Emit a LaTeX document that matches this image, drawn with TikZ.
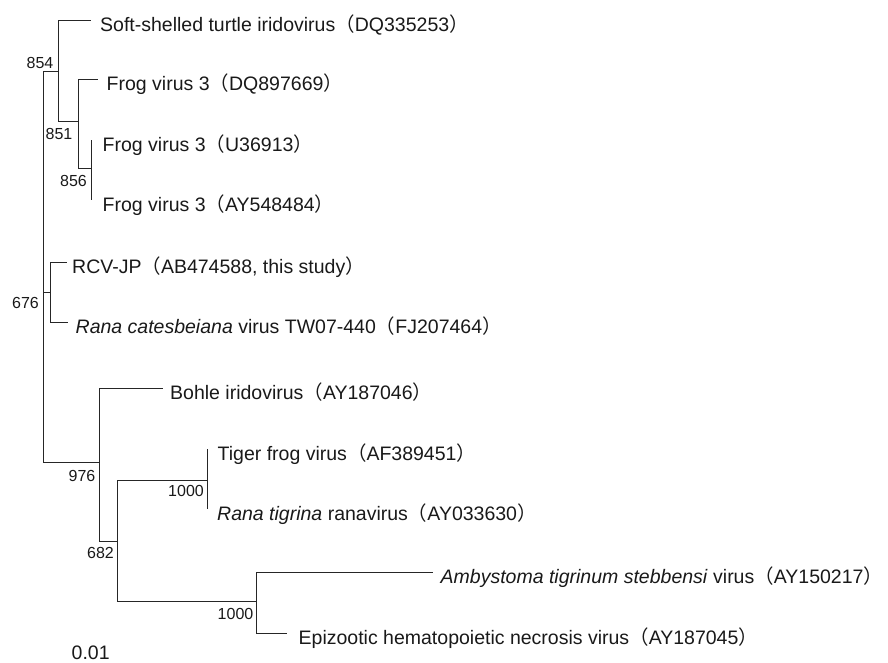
\documentclass[tikz,border=0pt]{standalone}
\usepackage{fontspec}
\setmainfont{Liberation Sans}
\newfontfamily\cjk{Noto Sans CJK JP}
\newcommand\lpar{{\cjk （}}
\newcommand\rpar{{\cjk ）}}
\begin{document}
\begin{tikzpicture}[x=1pt,y=-1pt,
  branch/.style={draw=black!85,line width=1pt},
  leaf/.style={inner sep=0pt,anchor=base west,font=\fontsize{19.5}{22}\selectfont,text=black!90},
  boot/.style={inner sep=0pt,anchor=base east,font=\fontsize{16}{18}\selectfont,text=black!90}]
\useasboundingbox (0,0) rectangle (888,662);
% internal nodes
\coordinate (root) at (43,292);
\coordinate (n854) at (58,71);
\coordinate (n851) at (78,121);
\coordinate (n856) at (91,168);
\coordinate (n676) at (50,292);
\coordinate (n976) at (99,462);
\coordinate (n682) at (117,541);
\coordinate (n1000a) at (207,480);
\coordinate (n1000b) at (256,601);
% tips
\coordinate (tSoft) at (91,20);
\coordinate (tDQ) at (98,79);
\coordinate (tU) at (91,140);
\coordinate (tAY) at (91,200);
\coordinate (tRCV) at (67,262);
\coordinate (tRcat) at (68,322);
\coordinate (tBohle) at (163,388);
\coordinate (tTiger) at (207,449);
\coordinate (tRtig) at (207,509);
\coordinate (tAmby) at (433,572);
\coordinate (tEpi) at (287,633);
% branches
\draw[branch] (root) |- (n854);
\draw[branch] (root) -- (n676);
\draw[branch] (root) |- (n976);
\draw[branch] (n854) |- (tSoft);
\draw[branch] (n854) |- (n851);
\draw[branch] (n851) |- (tDQ);
\draw[branch] (n851) |- (n856);
\draw[branch] (n856) -- (tU);
\draw[branch] (n856) -- (tAY);
\draw[branch] (n676) |- (tRCV);
\draw[branch] (n676) |- (tRcat);
\draw[branch] (n976) |- (tBohle);
\draw[branch] (n976) |- (n682);
\draw[branch] (n682) |- (n1000a);
\draw[branch] (n682) |- (n1000b);
\draw[branch] (n1000a) -- (tTiger);
\draw[branch] (n1000a) -- (tRtig);
\draw[branch] (n1000b) |- (tAmby);
\draw[branch] (n1000b) |- (tEpi);
% leaf labels
\node[leaf] (lSoft) at (100,31.5) {Soft-shelled turtle iridovirus\lpar DQ335253\rpar};
\node[leaf] (lDQ) at (106.5,90.5) {Frog virus 3\lpar DQ897669\rpar};
\node[leaf] (lU) at (102.5,151.5) {Frog virus 3\lpar U36913\rpar};
\node[leaf] (lAY) at (102.5,211.5) {Frog virus 3\lpar AY548484\rpar};
\node[leaf] (lRCV) at (72,273.5) {RCV-JP\lpar AB474588, this study\rpar};
\node[leaf] (lRcat) at (75.5,333.5) {\textit{Rana catesbeiana} virus TW07-440\lpar FJ207464\rpar};
\node[leaf] (lBohle) at (170,399.5) {Bohle iridovirus\lpar AY187046\rpar};
\node[leaf] (lTiger) at (217.5,460.5) {Tiger frog virus\lpar AF389451\rpar};
\node[leaf] (lRtig) at (217,520.5) {\textit{Rana tigrina} ranavirus\lpar AY033630\rpar};
\node[leaf] (lAmby) at (440.5,583.5) {\textit{Ambystoma tigrinum stebbensi} virus\lpar AY150217\rpar};
\node[leaf] (lEpi) at (298.5,644.5) {Epizootic hematopoietic necrosis virus\lpar AY187045\rpar};
% bootstrap values
\node[boot] (b854) at (53.5,68) {854};
\node[boot] (b851) at (72.5,139) {851};
\node[boot] (b856) at (87,186.5) {856};
\node[boot] (b676) at (39,308) {676};
\node[boot] (b976) at (95.5,481.5) {976};
\node[boot] (b682) at (114,558) {682};
\node[boot] (b1000a) at (204,496.5) {1000};
\node[boot] (b1000b) at (253.5,619) {1000};
% scale
\node[leaf] (scale) at (71.5,659) {0.01};
\end{tikzpicture}
\end{document}
